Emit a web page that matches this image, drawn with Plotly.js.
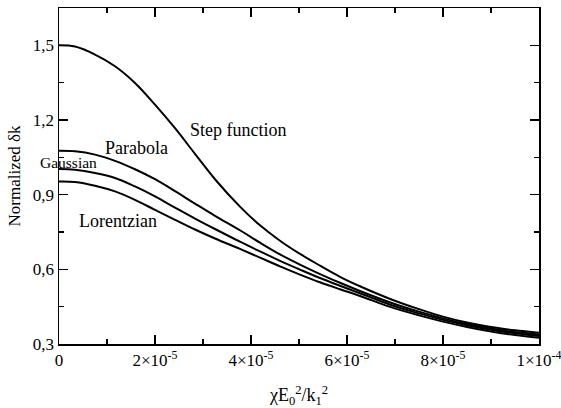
<!DOCTYPE html>
<html>
<head>
<meta charset="utf-8">
<script src="https://cdn.plot.ly/plotly-3.0.1.min.js"></script>
<style>
html,body{margin:0;padding:0;background:#fff;}
#chart{width:561px;height:408px;}
#chart text, #chart tspan{font-family:'Liberation Serif' !important;}
</style>
</head>
<body>
<div id="chart"></div>
<script>
// x values in units of 1e-5 (shared by all four curves)
var xVals = [0, 0.333, 0.75, 1.167, 1.583, 2.0, 2.417, 2.833, 3.25, 3.77, 4.1875, 4.604, 5.02, 5.4375, 5.854, 6.27, 6.9, 7.5, 8.0, 8.5, 9.0, 9.5, 10];
var yStep = [1.5, 1.495, 1.463, 1.416, 1.349, 1.262, 1.167, 1.064, 0.962, 0.852, 0.777, 0.715, 0.662, 0.615, 0.570, 0.532, 0.481, 0.440, 0.410, 0.386, 0.368, 0.355, 0.345];
var yPar  = [1.076, 1.074, 1.061, 1.036, 1.002, 0.962, 0.914, 0.864, 0.815, 0.757, 0.707, 0.660, 0.619, 0.581, 0.546, 0.513, 0.467, 0.430, 0.403, 0.380, 0.362, 0.348, 0.338];
var yGau  = [1.003, 1.000, 0.987, 0.967, 0.933, 0.893, 0.848, 0.804, 0.762, 0.711, 0.672, 0.634, 0.599, 0.565, 0.534, 0.504, 0.458, 0.423, 0.397, 0.375, 0.357, 0.343, 0.332];
var yLor  = [0.953, 0.951, 0.936, 0.913, 0.879, 0.839, 0.799, 0.760, 0.724, 0.682, 0.647, 0.612, 0.579, 0.548, 0.520, 0.493, 0.449, 0.415, 0.390, 0.368, 0.350, 0.336, 0.325];

var xTickVals = [0, 2e-5, 4e-5, 6e-5, 8e-5, 1e-4];
var xTickText = ['0', '2×10<sup>-5</sup>', '4×10<sup>-5</sup>', '6×10<sup>-5</sup>', '8×10<sup>-5</sup>', '1×10<sup>-4</sup>'];
var yTickVals = [0.3, 0.6, 0.9, 1.2, 1.5];
var yTickText = ['0,3', '0,6', '0,9', '1,2', '1,5'];

var curveNames = ['Step function', 'Parabola', 'Gaussian', 'Lorentzian'];
var labelX = [3.73e-5, 1.615e-5, 0.198e-5, 1.23e-5];
var labelY = [1.161, 1.089, 1.030, 0.795];

var xData = xVals.map(function(v){ return v * 1e-5; });

var FAMILY = 'Liberation Serif';
var line = {color: '#000', width: 2, shape: 'spline', smoothing: 1};
var series = [yStep, yPar, yGau, yLor];
var data = series.map(function(s, i){
  return {x: xData, y: s, type: 'scatter', mode: 'lines', name: curveNames[i], line: line, showlegend: false, hoverinfo: 'skip'};
});

var annotations = curveNames.map(function(n, i){
  return {x: labelX[i], y: labelY[i], xref: 'x', yref: 'y', text: n, showarrow: false,
    font: {family: FAMILY, color: '#000', size: i === 2 ? 15.5 : 18}};
});

var layout = {
  width: 561, height: 408,
  margin: {l: 59, r: 22, t: 8, b: 64},
  paper_bgcolor: '#fff', plot_bgcolor: '#fff',
  font: {family: FAMILY, color: '#000', size: 17},
  showlegend: false,
  xaxis: {
    range: [0, 1e-4], tickvals: xTickVals, ticktext: xTickText,
    ticks: 'inside', ticklen: 9, tickwidth: 1.2, tickcolor: '#000',
    minor: {dtick: 1e-5, ticks: 'inside', ticklen: 5, tickwidth: 1.2, tickcolor: '#000', showgrid: false},
    showline: true, linecolor: '#000', linewidth: 1.5, mirror: 'allticks',
    showgrid: false, zeroline: false, ticklabeloverflow: 'allow',
    tickfont: {family: FAMILY, size: 17, color: '#000'},
    title: {text: 'χE<sub>0</sub><sup>2</sup>/k<sub>1</sub><sup>2</sup>', font: {family: FAMILY, size: 18, color: '#000'}, standoff: 22}
  },
  yaxis: {
    range: [0.3, 1.65], tickvals: yTickVals, ticktext: yTickText,
    ticks: 'inside', ticklen: 9, tickwidth: 1.2, tickcolor: '#000',
    minor: {dtick: 0.15, tick0: 0.3, ticks: 'inside', ticklen: 5, tickwidth: 1.2, tickcolor: '#000', showgrid: false},
    showline: true, linecolor: '#000', linewidth: 1.5, mirror: 'allticks',
    showgrid: false, zeroline: false, ticklabeloverflow: 'allow',
    tickfont: {family: FAMILY, size: 17, color: '#000'},
    title: {text: 'Normalized δk', font: {family: FAMILY, size: 17, color: '#000'}, standoff: 8}
  },
  annotations: annotations
};

Plotly.newPlot('chart', data, layout, {displayModeBar: false, staticPlot: true});
</script>
</body>
</html>
